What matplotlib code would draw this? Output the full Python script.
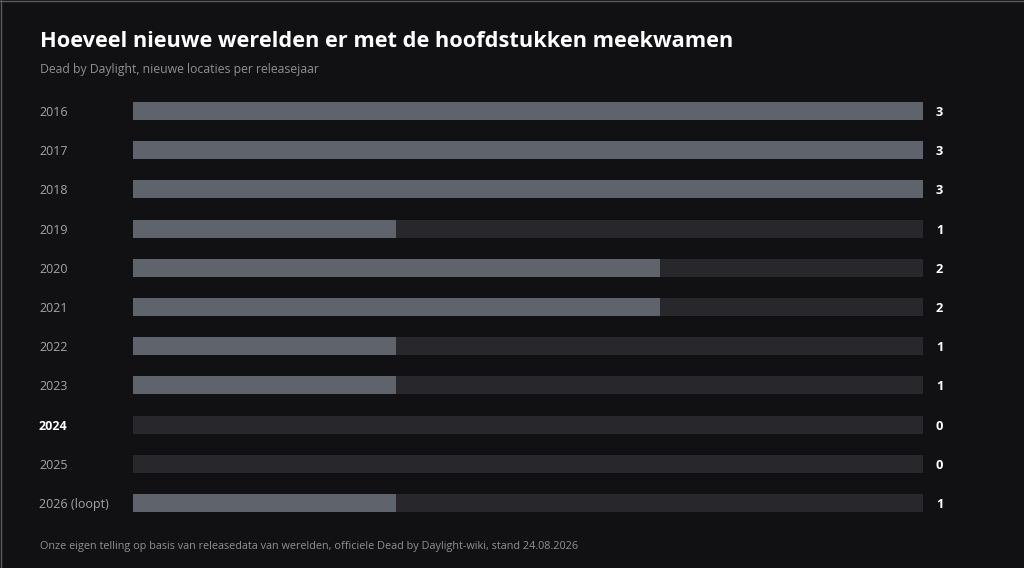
import matplotlib
matplotlib.use("Agg")
import matplotlib.pyplot as plt
from matplotlib.lines import Line2D

years = ["2016", "2017", "2018", "2019", "2020", "2021", "2022", "2023", "2024", "2025", "2026 (loopt)"]
values = [3, 3, 3, 1, 2, 2, 1, 1, 0, 0, 1]
highlight = "2024"
max_value = 3

title = "Hoeveel nieuwe werelden er met de hoofdstukken meekwamen"
subtitle = "Dead by Daylight, nieuwe locaties per releasejaar"
footer = "Onze eigen telling op basis van releasedata van werelden, officiele Dead by Daylight-wiki, stand 24.08.2026"

BG = "#111113"
TRACK = "#27272c"
BAR = "#5f636b"
LABEL = "#a3a5ab"
SUB = "#8e9096"

W, H = 1024, 568
fig = plt.figure(figsize=(W / 100, H / 100), dpi=100, facecolor=BG)
plt.rcParams['font.family'] = ['Open Sans', 'DejaVu Sans']

# axes in pixel layout
x0, x1 = 133, 923
ytop, ybot = 91.4, 522.6
ax = fig.add_axes([x0 / W, 1 - ybot / H, (x1 - x0) / W, (ybot - ytop) / H])
ax.set_facecolor(BG)
n = len(years)
pos = list(range(n))
h = 18 / 39.2
ax.barh(pos, [max_value] * n, height=h, color=TRACK, edgecolor="none")
ax.barh(pos, values, height=h, color=BAR, edgecolor="none")
ax.set_xlim(0, max_value)
ax.set_ylim(n - 0.5, -0.5)
ax.axis("off")

for i, (y, v) in enumerate(zip(years, values)):
    bold = y == highlight
    ax.text(-(x0 - 39) / (x1 - x0) * max_value, i + 0.04, y, ha="left", va="center",
            fontsize=9, color="white" if bold else LABEL,
            fontweight="bold" if bold else "normal")
    ax.text(max_value + 13 / (x1 - x0) * max_value, i + 0.04, str(v), ha="left", va="center",
            fontsize=9.3, color="white", fontweight="bold")

fig.text(40 / W, 1 - 41.5 / H, title, ha="left", va="center", fontsize=15.7,
         fontweight="bold", color="white")
fig.text(40 / W, 1 - 69.5 / H, subtitle, ha="left", va="center", fontsize=8.8, color=SUB)
fig.text(40 / W, 1 - 546.5 / H, footer, ha="left", va="center", fontsize=7.8, color=SUB)

fig.add_artist(Line2D([0, 1], [1 - 0.5 / H, 1 - 0.5 / H], transform=fig.transFigure, color="#5a5a5e", lw=1))
fig.add_artist(Line2D([0.5 / W, 0.5 / W], [0, 1], transform=fig.transFigure, color="#5a5a5e", lw=1))

fig.savefig("out.png", dpi=100, facecolor=BG)
